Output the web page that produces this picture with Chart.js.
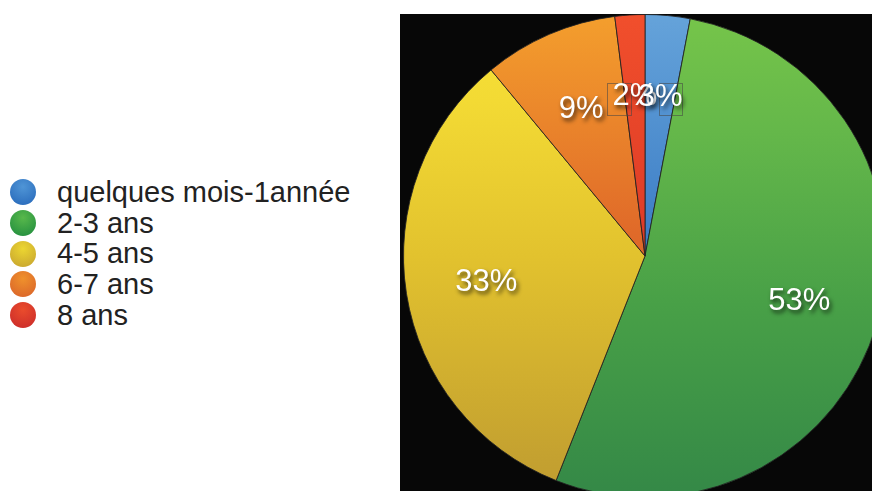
<!DOCTYPE html>
<html>
<head>
<meta charset="utf-8">
<script src="https://cdn.jsdelivr.net/npm/chart.js@4"></script>
<style>
  html, body { margin: 0; padding: 0; background: #ffffff; width: 872px; height: 491px; overflow: hidden; }
  #legend { position: absolute; left: 10px; top: 177px; font-family: "Liberation Sans", Arial, Helvetica, sans-serif; font-size: 29px; color: #222; }
  .row { height: 30.7px; line-height: 30.7px; display: flex; align-items: center; white-space: nowrap; }
  .dot { width: 26px; height: 26px; border-radius: 50%; margin-right: 21px; flex: none; }
  #box { position: absolute; left: 400px; top: 14px; width: 472px; height: 477px; background: #070707; overflow: hidden; }
  #pie { position: absolute; left: 3px; top: 0px; }
</style>
</head>
<body>
<div id="legend"></div>
<div id="box"><canvas id="pie" width="484" height="484"></canvas></div>
<script>
const categories = ["quelques mois-1année", "2-3 ans", "4-5 ans", "6-7 ans", "8 ans"];
const values = [3, 53, 33, 9, 2];
const valueLabels = ["3%", "53%", "33%", "9%", "2%"];
const sliceStops = [
  [[0, "#65a3da"], [0.5, "#3a7bc4"], [1, "#2a62ac"]],
  [[0, "#76c54a"], [0.25, "#64b74a"], [0.6, "#48a047"], [1, "#348847"]],
  [[0, "#f7e237"], [0.18, "#f3da34"], [0.5, "#e2c22e"], [0.92, "#c4a130"], [1, "#c09c30"]],
  [[0, "#f49f2d"], [0.45, "#e06a29"], [1, "#d04f25"]],
  [[0, "#f14f2c"], [0.5, "#dc3a26"], [1, "#c83024"]]
];
const legendColors = [
  ["#4f95d6", "#2566b8"],
  ["#58b84b", "#1d8a3e"],
  ["#ecd631", "#c4a030"],
  ["#ef912c", "#d8602a"],
  ["#ea4c2c", "#c8282a"]
];

const legend = document.getElementById("legend");
categories.forEach((c, i) => {
  const row = document.createElement("div");
  row.className = "row";
  const dot = document.createElement("span");
  dot.className = "dot";
  dot.style.background = "radial-gradient(circle at 50% 30%, " + legendColors[i][0] + " 0%, " + legendColors[i][1] + " 100%)";
  const t = document.createElement("span");
  t.textContent = c;
  row.appendChild(dot);
  row.appendChild(t);
  legend.appendChild(row);
});

function sliceGradient(ctx) {
  const chart = ctx.chart;
  const area = chart.chartArea;
  const i = ctx.dataIndex;
  if (!area || i === undefined) return sliceStops[i || 0][0][1];
  const g = chart.ctx.createLinearGradient(0, area.top, 0, area.bottom);
  sliceStops[i].forEach(s => g.addColorStop(s[0], s[1]));
  return g;
}

const labelPlugin = {
  id: "pctLabels",
  afterDatasetsDraw(chart) {
    const ctx = chart.ctx;
    const meta = chart.getDatasetMeta(0);
    ctx.save();
    ctx.font = "31px 'Liberation Sans', Arial, Helvetica, sans-serif";
    ctx.textAlign = "center";
    ctx.textBaseline = "middle";
    const pos = meta.data.map(arc => {
      const p = arc.getProps(["x", "y", "startAngle", "endAngle", "outerRadius"], true);
      const mid = (p.startAngle + p.endAngle) / 2;
      const r = p.outerRadius * 0.665;
      return { x: p.x + Math.cos(mid) * r, y: p.y + Math.sin(mid) * r };
    });
    // faint frame artefacts around the two tiny labels
    pos.forEach((q, i) => {
      if (values[i] < 5) {
        const left = i === 0 ? -1 : -28;
        const right = i === 0 ? 22 : -4;
        ctx.strokeStyle = "rgba(70,70,70,0.55)";
        ctx.lineWidth = 1;
        ctx.strokeRect(Math.round(q.x + left) + 0.5, Math.round(q.y - 13) + 0.5, right - left, 32);
      }
    });
    // draw in reverse order so the first slice's label sits on top
    for (let i = pos.length - 1; i >= 0; i--) {
      const q = pos[i];
      ctx.shadowColor = "rgba(0,0,0,0.7)";
      ctx.shadowOffsetX = 2;
      ctx.shadowOffsetY = 3;
      ctx.shadowBlur = 4;
      ctx.fillStyle = "#ffffff";
      ctx.fillText(valueLabels[i], q.x, q.y + 1);
    }
    ctx.restore();
  }
};

new Chart(document.getElementById("pie"), {
  type: "pie",
  data: {
    labels: categories,
    datasets: [{
      data: values,
      backgroundColor: sliceGradient,
      borderColor: "rgba(35,35,35,0.85)",
      borderWidth: 1,
      hoverOffset: 0
    }]
  },
  options: {
    responsive: false,
    animation: false,
    events: [],
    devicePixelRatio: 1,
    layout: { padding: 0 },
    plugins: { legend: { display: false }, tooltip: { enabled: false } }
  },
  plugins: [labelPlugin]
});
</script>
</body>
</html>
